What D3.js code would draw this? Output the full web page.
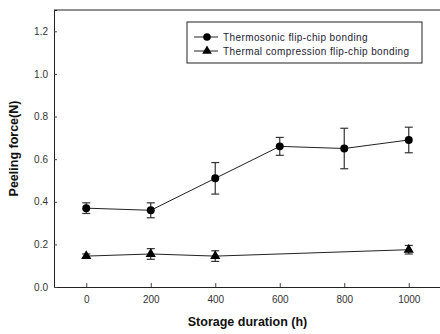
<!DOCTYPE html>
<html>
<head>
<meta charset="utf-8">
<script src="https://cdn.jsdelivr.net/npm/d3@7"></script>
<style>
  body { margin: 0; background: #fff; }
  svg { display: block; font-family: Arial, "Liberation Sans", sans-serif; }
</style>
</head>
<body>
<svg id="chart"></svg>
<script>
const width = 440;
const height = 334;
const margin = { top: 10, right: -1, bottom: 47, left: 54 };

// data
const hours = [0, 200, 400, 600, 800, 1000];
const sonicForce = [0.37, 0.36, 0.51, 0.66, 0.65, 0.69];
const sonicErr = [0.025, 0.035, 0.074, 0.042, 0.095, 0.06];
const tcHours = [0, 200, 400, 1000];
const tcForce = [0.145, 0.155, 0.145, 0.175];
const tcErr = [0.01, 0.025, 0.025, 0.02];
const xTicks = [0, 200, 400, 600, 800, 1000];
const yTicks = [0.0, 0.2, 0.4, 0.6, 0.8, 1.0, 1.2];
const seriesNames = ["Thermosonic flip-chip bonding", "Thermal compression flip-chip bonding"];

const svg = d3.select("#chart").attr("width", width).attr("height", height);

const x = d3.scaleLinear().domain([-100, 1100]).range([margin.left, width - margin.right]);
const y = d3.scaleLinear().domain([0, 1.3]).range([height - margin.bottom, margin.top]);

// axes (inward ticks)
svg.append("g")
  .attr("transform", `translate(0,${y(0)})`)
  .call(d3.axisBottom(x).tickValues(xTicks).tickSize(-4).tickPadding(9).tickFormat(d3.format("d")))
  .call(g => g.select(".domain").attr("stroke", "#222"))
  .call(g => g.selectAll(".tick line").attr("stroke", "#444"))
  .call(g => g.selectAll("text").attr("font-size", 10).attr("fill", "#333"));

svg.append("g")
  .attr("transform", `translate(${x(-100)},0)`)
  .call(d3.axisLeft(y).tickValues(yTicks).tickSize(-3).tickPadding(6).tickFormat(d3.format(".1f")))
  .call(g => g.select(".domain").attr("stroke", "#222"))
  .call(g => g.selectAll(".tick line").attr("stroke", "#444"))
  .call(g => g.selectAll("text").attr("font-size", 10).attr("fill", "#333"));

// top frame line
svg.append("line")
  .attr("x1", x(-100)).attr("x2", width)
  .attr("y1", y(1.3)).attr("y2", y(1.3))
  .attr("stroke", "#222");

// axis titles
svg.append("text")
  .attr("x", (x(-100) + x(1100)) / 2)
  .attr("y", height - 8)
  .attr("text-anchor", "middle")
  .attr("font-size", 12.5).attr("font-weight", "bold").attr("fill", "#111")
  .text("Storage duration (h)");

svg.append("text")
  .attr("transform", `translate(18,${(y(0) + y(1.3)) / 2}) rotate(-90)`)
  .attr("text-anchor", "middle")
  .attr("font-size", 12.5).attr("font-weight", "bold").attr("fill", "#111")
  .text("Peeling force(N)");

const line = d3.line().x(d => x(d.h)).y(d => y(d.v));

function drawSeries(hs, vs, es, shape) {
  const pts = hs.map((h, i) => ({ h, v: vs[i], e: es[i] }));
  const g = svg.append("g");
  g.append("path").datum(pts)
    .attr("fill", "none").attr("stroke", "#222").attr("stroke-width", 1)
    .attr("d", line);
  const eb = g.selectAll(".eb").data(pts).join("g").attr("stroke", "#333").attr("stroke-width", 1.2);
  eb.append("line")
    .attr("x1", d => x(d.h)).attr("x2", d => x(d.h))
    .attr("y1", d => y(d.v + d.e)).attr("y2", d => y(d.v - d.e));
  eb.append("line")
    .attr("x1", d => x(d.h) - 4).attr("x2", d => x(d.h) + 4)
    .attr("y1", d => y(d.v + d.e)).attr("y2", d => y(d.v + d.e));
  eb.append("line")
    .attr("x1", d => x(d.h) - 4).attr("x2", d => x(d.h) + 4)
    .attr("y1", d => y(d.v - d.e)).attr("y2", d => y(d.v - d.e));
  g.selectAll(".mk").data(pts).join("path")
    .attr("transform", d => `translate(${x(d.h)},${y(d.v)})`)
    .attr("d", d3.symbol().type(shape).size(shape === d3.symbolCircle ? 50 : 45))
    .attr("fill", "#000");
}

drawSeries(hours, sonicForce, sonicErr, d3.symbolCircle);
drawSeries(tcHours, tcForce, tcErr, d3.symbolTriangle);

// legend
const lg = svg.append("g").attr("transform", "translate(187,22)");
lg.append("rect").attr("width", 235).attr("height", 41)
  .attr("fill", "#fff").attr("stroke", "#222");
const shapes = [d3.symbolCircle, d3.symbolTriangle];
seriesNames.forEach((name, i) => {
  const row = lg.append("g").attr("transform", `translate(0,${15 + i * 14})`);
  row.append("line").attr("x1", 7).attr("x2", 31).attr("stroke", "#222");
  row.append("path").attr("transform", "translate(20,0)")
    .attr("d", d3.symbol().type(shapes[i]).size(i === 0 ? 45 : 40)).attr("fill", "#000");
  row.append("text").attr("x", 36).attr("dy", "0.35em")
    .attr("font-size", 10).attr("letter-spacing", 0.4).attr("fill", "#223")
    .text(name);
});
</script>
</body>
</html>
